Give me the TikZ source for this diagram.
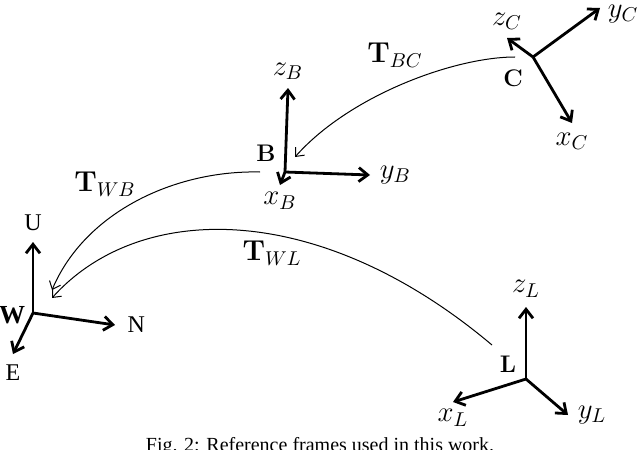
\documentclass[tikz,border=0pt]{standalone}
\usepackage{amsmath,amssymb}
\usepackage[no-math]{fontspec}
\setmainfont{Liberation Serif}
\usetikzlibrary{arrows.meta,positioning}

\begin{document}
\begin{tikzpicture}[x=0.5pt, y=-0.5pt,
  axis/.style={line width=1.4pt, -{Straight Barb[length=4.5pt,width=7pt]}},
  xform/.style={line width=0.5pt, -{Straight Barb[length=3.5pt,width=6pt]}},
  lbl/.style={inner sep=1pt, font=\fontsize{12}{14}\selectfont},
  mlbl/.style={inner sep=1pt, font=\fontsize{14}{16}\selectfont},
  fname/.style={inner sep=1pt, font=\fontsize{13}{15}\selectfont\bfseries}
]
\useasboundingbox (0,0) rectangle (640,449);

% world frame W (ENU)
\coordinate (W) at (33,313);
\coordinate (Wu) at (33,242);
\coordinate (Wn) at (115,325);
\coordinate (We) at (13,354);
\draw[axis] (W) -- (Wu);
\draw[axis] (W) -- (Wn);
\draw[axis] (W) -- (We);
\node[lbl, above=1.6mm of Wu] (lU) {U};
\node[lbl, right=1.8mm of Wn] (lN) {N};
\node[lbl, below=1.5mm of We] (lE) {E};
\node[fname] (nW) at (12,315) {W};

% body frame B
\coordinate (B) at (285,172);
\coordinate (Bz) at (288,88);
\coordinate (By) at (370,175);
\coordinate (Bx) at (280,185);
\draw[axis] (B) -- (Bz);
\draw[axis] (B) -- (By);
\draw[axis] (B) -- (Bx);
\node[mlbl, above=1.1mm of Bz] (lzB) {$z_B$};
\node[mlbl, right=1.3mm of By] (lyB) {$y_B$};
\node[mlbl, below=0.9mm of Bx] (lxB) {$x_B$};
\node[fname] (nB) at (266,153) {$\mathbf{B}$};

% camera frame C
\coordinate (C) at (533,57);
\coordinate (Cz) at (507,38);
\coordinate (Cy) at (600,8);
\coordinate (Cx) at (572,123);
\draw[axis] (C) -- (Cz);
\draw[axis] (C) -- (Cy);
\draw[axis] (C) -- (Cx);
\node[mlbl, above=1.1mm of Cz] (lzC) {$z_C$};
\node[mlbl, inner sep=0pt, right=1.3mm of Cy, yshift=-3pt] (lyC) {$y_C$};
\node[mlbl, below=1.3mm of Cx] (lxC) {$x_C$};
\node[fname] (nC) at (513,78) {$\mathbf{C}$};

% lidar frame L
\coordinate (L) at (526,379);
\coordinate (Lz) at (526,307);
\coordinate (Lx) at (453,402);
\coordinate (Ly) at (568,415);
\draw[axis] (L) -- (Lz);
\draw[axis] (L) -- (Lx);
\draw[axis] (L) -- (Ly);
\node[mlbl, above=1.3mm of Lz] (lzL) {$z_L$};
\node[mlbl, below=0.9mm of Lx] (lxL) {$x_L$};
\node[mlbl, right=1.3mm of Ly] (lyL) {$y_L$};
\node[fname] (nL) at (508,364) {$\mathbf{L}$};

% transforms
\coordinate (bcS) at (515,57);
\coordinate (bcE) at (295,157);
\coordinate (wbS) at (260,172);
\coordinate (wbE) at (52,290);
\coordinate (wlS) at (492,345);
\coordinate (wlE) at (52,298);
\draw[xform] (bcS) .. controls (455,57) and (350,95) .. (bcE);
\draw[xform] (wbS) .. controls (175,170) and (85,212) .. (wbE);
\draw[xform] (wlS) .. controls (320,200) and (140,200) .. (wlE);
\node[mlbl] (tBC) at (395,55) {$\mathbf{T}_{BC}$};
\node[mlbl] (tWB) at (105,184) {$\mathbf{T}_{WB}$};
\node[mlbl] (tWL) at (272,253) {$\mathbf{T}_{WL}$};

\node[anchor=base] (cap) at (320,451) {Fig. 2: Reference frames used in this work.};
\end{tikzpicture}
\end{document}
